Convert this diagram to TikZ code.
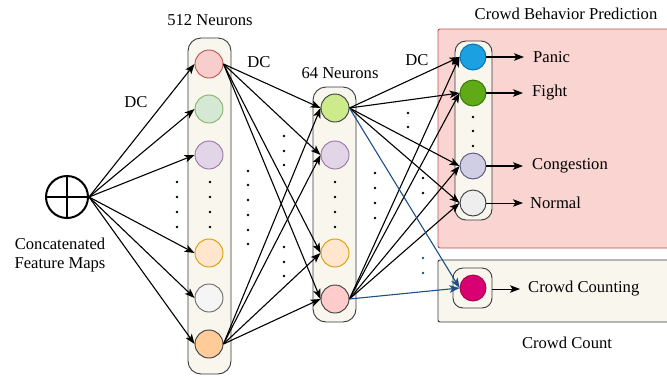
\documentclass[tikz,border=0pt]{standalone}
\usepackage{fontspec}
\setmainfont{Liberation Serif}
\usetikzlibrary{arrows.meta}
\definecolor{colbg}{HTML}{F9F7ED}
\definecolor{colbd}{HTML}{36393D}
\definecolor{redbg}{HTML}{F9D4D1}
\definecolor{redbd}{HTML}{B85450}
\definecolor{lnblue}{HTML}{1B4F86}
\definecolor{fRed}{HTML}{F8CECC}\definecolor{dRed}{HTML}{B85450}
\definecolor{fGrn}{HTML}{D5E8D4}\definecolor{dGrn}{HTML}{82B366}
\definecolor{fPur}{HTML}{E1D5E7}\definecolor{dPur}{HTML}{9673A6}
\definecolor{fOrg}{HTML}{FFE6CC}\definecolor{dOrg}{HTML}{D79B00}
\definecolor{fGry}{HTML}{F5F5F5}\definecolor{dGry}{HTML}{666666}
\definecolor{fOr2}{HTML}{FFCC99}
\definecolor{fLim}{HTML}{CDEB8B}
\definecolor{fPnk}{HTML}{FFCCCC}
\definecolor{fBlu}{HTML}{1BA1E2}\definecolor{dBlu}{HTML}{006EAF}
\definecolor{fGr2}{HTML}{60A917}\definecolor{dGr2}{HTML}{2D7600}
\definecolor{fLav}{HTML}{D0CEE2}\definecolor{dLav}{HTML}{56517E}
\definecolor{fLg}{HTML}{EEEEEE}
\definecolor{fMag}{HTML}{D80073}\definecolor{dMag}{HTML}{A50040}
\begin{document}
\begin{tikzpicture}[x=1pt,y=-1pt,
  txt/.style={font=\fontsize{16.6}{19.5}\selectfont, inner sep=0pt},
  lab/.style={txt, anchor=west},
  neuron/.style={circle, minimum size=28pt, inner sep=0pt, line width=0.9pt},
  oneuron/.style={circle, minimum size=26pt, inner sep=0pt, line width=0.9pt},
  colbox/.style={draw=colbd, fill=colbg, line width=0.9pt, rounded corners=13pt},
  arr/.style={-{Stealth[length=10pt,width=7.5pt,inset=2.5pt]}, line width=1.1pt},
  barr/.style={arr, draw=lnblue, -{Stealth[length=10pt,width=7.5pt,inset=2.5pt,fill=lnblue]}},
  dot/.style={fill=black, circle, inner sep=0pt, minimum size=2.8pt},
  bdot/.style={fill=lnblue, circle, inner sep=0pt, minimum size=2.8pt}
]
\useasboundingbox (0,0) rectangle (667,376);

% background boxes
\draw[fill=redbg, draw=redbd, line width=0.9pt, rounded corners=2pt] (438,29) rectangle (672,248);
\draw[fill=colbg, draw=colbd, line width=0.9pt, rounded corners=2pt] (438,260) rectangle (672,322);

\draw[colbox] (188,38) rectangle (231,374);
\draw[colbox] (313,87) rectangle (356,322);
\draw[colbox, rounded corners=11pt] (455,41) rectangle (492,220);
\draw[colbox, fill=colbg, rounded corners=10pt] (453,268) rectangle (492,308);

% oplus
\node[circle, draw, line width=2pt, minimum size=42pt, inner sep=0pt] (o) at (67,197) {};
\draw[line width=2pt] (o.north) -- (o.south) (o.west) -- (o.east);

% 512 neurons
\node[neuron, draw=dRed, fill=fRed] (n1) at (209,64) {};
\node[neuron, draw=dGrn, fill=fGrn] (n2) at (209,109) {};
\node[neuron, draw=dPur, fill=fPur] (n3) at (209,155) {};
\node[neuron, draw=dOrg, fill=fOrg] (n4) at (209,253) {};
\node[neuron, draw=dGry, fill=fGry] (n5) at (209,298) {};
\node[neuron, draw=colbd, fill=fOr2] (n6) at (209,344) {};

% 64 neurons
\node[neuron, draw=colbd, fill=fLim] (m1) at (335,108) {};
\node[neuron, draw=dPur, fill=fPur] (m2) at (335,155) {};
\node[neuron, draw=dOrg, fill=fOrg] (m3) at (335,253) {};
\node[neuron, draw=colbd, fill=fPnk] (m4) at (335,299) {};

% outputs
\node[oneuron, draw=dBlu, fill=fBlu] (p1) at (473,57) {};
\node[oneuron, draw=dGr2, fill=fGr2] (p2) at (473,93) {};
\node[oneuron, draw=dLav, fill=fLav] (p3) at (473,166) {};
\node[oneuron, draw=colbd, fill=fLg] (p4) at (473,203) {};
\node[oneuron, draw=dMag, fill=fMag] (c1) at (473,288) {};

% texts
\node[txt] (t512) at (210,20) {512 Neurons};
\node[txt] (t64) at (340,73) {64 Neurons};
\node[txt] (dc1) at (136,102) {DC};
\node[txt] (dc2) at (259,62) {DC};
\node[txt] (dc3) at (417,60) {DC};
\node[txt] (tcbp) at (566,14) {Crowd Behavior Prediction};
\node[txt, align=center] (tcfm) at (60,255) {Concatenated\\Feature Maps};
\node[txt] (tcc) at (567,343) {Crowd Count};
\node[lab] (lp1) at (533,57) {Panic};
\node[lab] (lp2) at (532,93) {Fight};
\node[lab] (lp3) at (532,166) {Congestion};
\node[lab] (lp4) at (530,203) {Normal};
\node[lab] (lc1) at (528,289) {Crowd Counting};

% input arrows
\foreach \i in {1,...,6} \draw[arr] (o.east) -- (n\i.west);

% 512 -> 64
\foreach \j in {1,...,4} {
  \draw[arr] (n1.east) -- (m\j.west);
  \draw[arr] (n6.east) -- (m\j.west);
}

% 64 -> outputs
\foreach \j in {1,...,4} {
  \draw[arr] (m1.east) -- (p\j.west);
  \draw[arr] (m4.east) -- (p\j.west);
}
\draw[barr] (m1.east) -- (c1.west);
\draw[barr] (m4.east) -- (c1.west);

% output arrows
\draw[arr] (p1.east) -- ([xshift=-9pt]lp1.west);
\draw[arr] (p2.east) -- ([xshift=-9pt]lp2.west);
\draw[arr] (p3.east) -- ([xshift=-9pt]lp3.west);
\draw[arr, line width=0.8pt] (p4.east) -- ([xshift=-7pt]lp4.west);
\draw[arr, line width=0.8pt] (492,289) -- ([xshift=-8pt]lc1.west);

% dots
\foreach \y in {182,197,212,227} {
  \node[dot] at (177,\y) {};
  \node[dot] at (210,\y) {};
  \node[dot] at (335,\y) {};
}
\foreach \y in {171,185,200,215,230,244} \node[dot] at (248,\y) {};
\foreach \y in {136,151,165,247,262,276} \node[dot] at (284,\y) {};
\foreach \y in {113,127} \node[dot] at (408,\y) {};
\foreach \y in {173,188,203,218} \node[dot] at (375,\y) {};
\foreach \y in {178,193} \node[dot] at (423,\y) {};
\foreach \y in {258,273} \node[bdot] at (423,\y) {};
\foreach \y in {117,131,146} \node[dot] at (473,\y) {};
\end{tikzpicture}
\end{document}
